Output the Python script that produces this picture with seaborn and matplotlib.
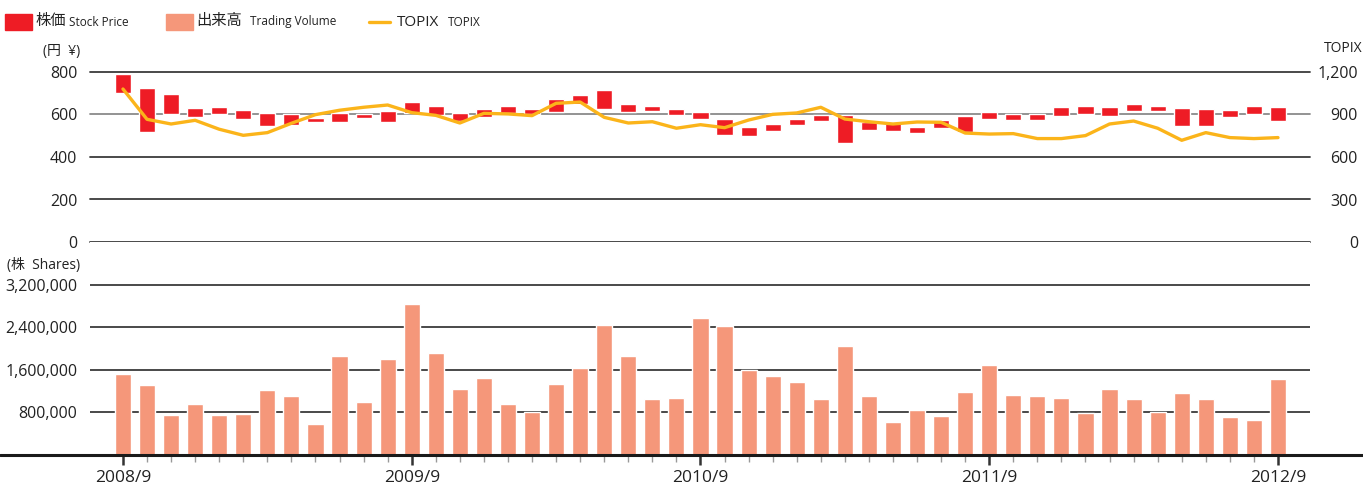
import pandas as pd
import numpy as np
import matplotlib
matplotlib.use("Agg")
import matplotlib.pyplot as plt
import seaborn as sns
from matplotlib.patches import Rectangle
from matplotlib.lines import Line2D
from matplotlib.ticker import FixedLocator, FuncFormatter

# months 2008/9 .. 2012/9
months = [f"{d.year}/{d.month}" for d in pd.date_range("2008-09-01", "2012-09-01", freq="MS")]
year_ticks = ["2008/9", "2009/9", "2010/9", "2011/9", "2012/9"]

# stock price body (upper / lower end of each monthly bar), yen
body_top = [790, 725, 696, 631, 635, 621, 607, 602, 584, 607, 602, 616, 659, 640, 607, 626, 640,
            626, 673, 692, 715, 649, 640, 626, 612, 579, 541, 557, 580, 598, 598, 566, 561, 543,
            574, 595, 612, 602, 602, 635, 640, 635, 649, 640, 631, 626, 621, 640, 635]
body_bottom = [703, 519, 602, 590, 602, 580, 547, 552, 566, 566, 585, 566, 609, 599, 571, 590, 606,
               601, 613, 648, 627, 613, 618, 599, 580, 505, 500, 524, 552, 571, 467, 529, 524, 514,
               538, 519, 580, 576, 576, 595, 604, 595, 618, 618, 547, 547, 590, 604, 571]

# TOPIX (month end)
topix = [1080, 866, 833, 859, 796, 753, 772, 838, 899, 930, 951, 967, 913, 894, 840, 908, 904,
         892, 979, 988, 880, 840, 849, 803, 828, 807, 861, 901, 911, 951, 868, 849, 833, 847,
         845, 769, 762, 765, 730, 730, 751, 833, 854, 803, 718, 772, 737, 730, 737]

# trading volume, shares
volume = [1525000, 1318000, 753000, 960000, 753000, 778000, 1224000, 1111000, 584000, 1864000,
          998000, 1807000, 2843000, 1920000, 1242000, 1450000, 960000, 809000, 1337000, 1638000,
          2447000, 1864000, 1054000, 1073000, 2579000, 2428000, 1600000, 1487000, 1374000, 1054000,
          2052000, 1111000, 621000, 847000, 734000, 1186000, 1694000, 1130000, 1111000, 1073000,
          791000, 1242000, 1054000, 809000, 1167000, 1054000, 715000, 659000, 1431000]

RED = "#EE1C25"
PEACH = "#F5977A"
ORANGE = "#FBB41A"
TXT = "#222222"
GRID = "#3a3a3a"

sns.set_style("white")
plt.rcParams['font.family'] = ['Open Sans', 'Noto Sans CJK JP', 'DejaVu Sans']
plt.rcParams['text.color'] = TXT

W, H = 1363, 487
fig = plt.figure(figsize=(W / 100, H / 100), dpi=100)

def fy(py):
    return 1 - py / H

def fx(px):
    return px / W

left, right = 90, 1310
ax1 = fig.add_axes([fx(left), fy(242), fx(right - left), fy(72) - fy(242)])
ax2 = fig.add_axes([fx(left), fy(455), fx(right - left), fy(242) - fy(455)])
xlim = (-1.37, 49.33)

# --- upper: stock price bars + TOPIX
x = np.arange(len(months))
tops = np.array(body_top)
bots = np.array(body_bottom)
ax1.bar(x, tops - bots, bottom=bots, width=0.67, color=RED, zorder=3)
ax1.set_xlim(*xlim)
ax1.set_ylim(0, 800)
ax1.set_yticks([0, 200, 400, 600, 800])
ax1.set_yticklabels(["0", "200", "400", "600", "800"])
for v in [0, 200, 400, 600, 800]:
    ax1.axhline(v, color="#8a8a8a" if v == 600 else GRID, lw=1.3, zorder=1, clip_on=False)
ax1.set_xticks([])
ax1.tick_params(axis="y", length=0, pad=9, labelsize=11.5, labelcolor=TXT)
for s in ax1.spines.values():
    s.set_visible(False)

axr = ax1.twinx()
sns.lineplot(x=x, y=topix, ax=axr, color=ORANGE, lw=2.4, zorder=4)
axr.set_xlim(*xlim)
axr.set_ylim(0, 1200)
axr.set_yticks([0, 300, 600, 900, 1200])
axr.yaxis.set_major_formatter(FuncFormatter(lambda v, p: f"{int(v):,}"))
axr.tick_params(axis="y", length=0, pad=34.5, labelsize=11.5, labelcolor=TXT)
for lab in axr.get_yticklabels():
    lab.set_horizontalalignment("right")
for s in axr.spines.values():
    s.set_visible(False)
axr.set_ylabel("")

# --- lower: trading volume
vol_df = pd.DataFrame({"month": months, "volume": volume})
sns.barplot(data=vol_df, x="month", y="volume", order=months, color=PEACH, saturation=1,
            width=0.67, ax=ax2, zorder=3)
ax2.set_xlim(*xlim)
ax2.set_ylim(0, 4000000)
ax2.set_yticks([800000, 1600000, 2400000, 3200000])
ax2.yaxis.set_major_formatter(FuncFormatter(lambda v, p: f"{int(v):,}"))
for v in [800000, 1600000, 2400000, 3200000]:
    ax2.axhline(v, color=GRID, lw=1.3, zorder=1)
ax2.axhline(0, xmin=-left / (right - left), xmax=(W - left) / (right - left),
            color="#1a1a1a", lw=2.2, zorder=5, clip_on=False)
ax2.tick_params(axis="y", length=0, pad=9, labelsize=11.5, labelcolor=TXT)
ax2.set_xlabel("")
ax2.set_ylabel("")
ax2.set_xticks([months.index(m) for m in year_ticks])
ax2.set_xticklabels(year_ticks)
ax2.xaxis.set_minor_locator(FixedLocator(list(range(len(months)))))
ax2.tick_params(axis="x", which="both", bottom=True, direction="out")
ax2.tick_params(axis="x", which="major", length=7, width=1.8, color="#333333",
                labelsize=12.5, labelcolor=TXT, pad=4)
ax2.tick_params(axis="x", which="minor", length=5, width=1, color="#999999")
for s in ax2.spines.values():
    s.set_visible(False)

# unit labels
fig.text(fx(80), fy(52), "(円  ¥)", ha="right", va="center", fontsize=10)
fig.text(fx(80), fy(265), "(株  Shares)", ha="right", va="center", fontsize=10)
fig.text(fx(1362), fy(48), "TOPIX", ha="right", va="center", fontsize=10)

# legend
ly = fy(22)
fig.patches.append(Rectangle((fx(5), fy(30)), fx(27), fy(14) - fy(30), color=RED, transform=fig.transFigure))
fig.text(fx(35), ly, "株価", va="center", fontsize=11)
fig.text(fx(69), ly, "Stock Price", va="center", fontsize=8.5)
fig.patches.append(Rectangle((fx(166), fy(30)), fx(27), fy(14) - fy(30), color=PEACH, transform=fig.transFigure))
fig.text(fx(196), ly, "出来高", va="center", fontsize=11)
fig.text(fx(250), ly, "Trading Volume", va="center", fontsize=8.5)
fig.lines.append(Line2D([fx(369), fx(390)], [ly, ly], color=ORANGE, lw=2.4, transform=fig.transFigure))
fig.text(fx(397), ly, "TOPIX", va="center", fontsize=11)
fig.text(fx(448), ly, "TOPIX", va="center", fontsize=8.5)

fig.savefig("out.png", dpi=100)
